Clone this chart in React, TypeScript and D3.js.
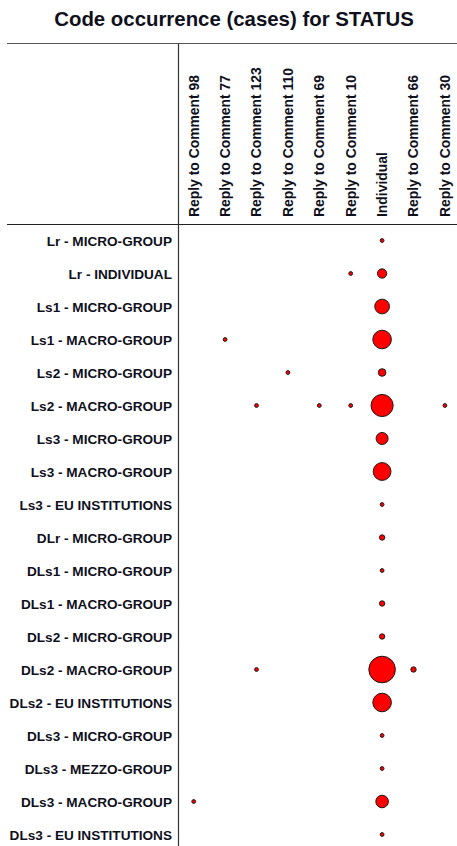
import React from "react";
import * as d3 from "d3";

const title = "Code occurrence (cases) for STATUS";

const columns = [
  "Reply to Comment 98",
  "Reply to Comment 77",
  "Reply to Comment 123",
  "Reply to Comment 110",
  "Reply to Comment 69",
  "Reply to Comment 10",
  "Individual",
  "Reply to Comment 66",
  "Reply to Comment 30",
];

const rows = [
  "Lr - MICRO-GROUP",
  "Lr - INDIVIDUAL",
  "Ls1 - MICRO-GROUP",
  "Ls1 - MACRO-GROUP",
  "Ls2 - MICRO-GROUP",
  "Ls2 - MACRO-GROUP",
  "Ls3 - MICRO-GROUP",
  "Ls3 - MACRO-GROUP",
  "Ls3 - EU INSTITUTIONS",
  "DLr - MICRO-GROUP",
  "DLs1 - MICRO-GROUP",
  "DLs1 - MACRO-GROUP",
  "DLs2 - MICRO-GROUP",
  "DLs2 - MACRO-GROUP",
  "DLs2 - EU INSTITUTIONS",
  "DLs3 - MICRO-GROUP",
  "DLs3 - MEZZO-GROUP",
  "DLs3 - MACRO-GROUP",
  "DLs3 - EU INSTITUTIONS",
];

// [row, column, cases]
const cells: [string, string, number][] = [
  ["Lr - MICRO-GROUP", "Individual", 1],
  ["Lr - INDIVIDUAL", "Reply to Comment 10", 1],
  ["Lr - INDIVIDUAL", "Individual", 6],
  ["Ls1 - MICRO-GROUP", "Individual", 15],
  ["Ls1 - MACRO-GROUP", "Reply to Comment 77", 1],
  ["Ls1 - MACRO-GROUP", "Individual", 24],
  ["Ls2 - MICRO-GROUP", "Reply to Comment 110", 1],
  ["Ls2 - MICRO-GROUP", "Individual", 4],
  ["Ls2 - MACRO-GROUP", "Reply to Comment 123", 1],
  ["Ls2 - MACRO-GROUP", "Reply to Comment 69", 1],
  ["Ls2 - MACRO-GROUP", "Reply to Comment 10", 1],
  ["Ls2 - MACRO-GROUP", "Individual", 34],
  ["Ls2 - MACRO-GROUP", "Reply to Comment 30", 1],
  ["Ls3 - MICRO-GROUP", "Individual", 10],
  ["Ls3 - MACRO-GROUP", "Individual", 22],
  ["Ls3 - EU INSTITUTIONS", "Individual", 1],
  ["DLr - MICRO-GROUP", "Individual", 2],
  ["DLs1 - MICRO-GROUP", "Individual", 1],
  ["DLs1 - MACRO-GROUP", "Individual", 2],
  ["DLs2 - MICRO-GROUP", "Individual", 2],
  ["DLs2 - MACRO-GROUP", "Reply to Comment 123", 1],
  ["DLs2 - MACRO-GROUP", "Individual", 49],
  ["DLs2 - MACRO-GROUP", "Reply to Comment 66", 2],
  ["DLs2 - EU INSTITUTIONS", "Individual", 24],
  ["DLs3 - MICRO-GROUP", "Individual", 1],
  ["DLs3 - MEZZO-GROUP", "Individual", 1],
  ["DLs3 - MACRO-GROUP", "Reply to Comment 98", 1],
  ["DLs3 - MACRO-GROUP", "Individual", 11],
  ["DLs3 - EU INSTITUTIONS", "Individual", 1],
];

const W = 457;
const H = 846;
const left = 178;
const gridTop = 224;
const font = "'Liberation Sans', Arial, sans-serif";
const ink = "#10101c";

export default function App() {
  const x = d3.scaleBand<string>().domain(columns).range([left, left + 31.4 * columns.length]);
  const y = d3.scaleBand<string>().domain(rows).range([gridTop, gridTop + 33 * rows.length]);
  const maxV = d3.max(cells, (d) => d[2]) as number;
  const r = d3.scaleSqrt().domain([0, maxV]).range([0, 13.3]);

  return (
    <svg
      width={W}
      height={H}
      style={{ position: "absolute", left: 0, top: 0, background: "#fff" }}
      fontFamily={font}
    >
      <text x={234} y={25.5} textAnchor="middle" fontWeight="bold" fontSize={20.4} fill={ink}>
        {title}
      </text>
      <line x1={7} x2={W} y1={43.5} y2={43.5} stroke="#555" strokeWidth={1.2} />
      <line x1={7} x2={W} y1={gridTop + 0.5} y2={gridTop + 0.5} stroke="#222" strokeWidth={1.2} />
      <line x1={left + 0.5} x2={left + 0.5} y1={43.5} y2={H} stroke="#333" strokeWidth={1.2} />

      {columns.map((c) => (
        <text
          key={c}
          transform={`translate(${(x(c) as number) + x.bandwidth() / 2 + 4.8},${217}) rotate(-90)`}
          textAnchor="start"
          fontWeight="bold"
          fontSize={13.9}
          fill={ink}
        >
          {c}
        </text>
      ))}

      {rows.map((rw) => (
        <text
          key={rw}
          x={172}
          y={(y(rw) as number) + y.bandwidth() / 2 + 5}
          textAnchor="end"
          fontWeight="bold"
          fontSize={13.6}
          fill={ink}
        >
          {rw}
        </text>
      ))}

      {cells.map(([rw, c, v]) => (
        <circle
          key={rw + c}
          cx={(x(c) as number) + x.bandwidth() / 2}
          cy={(y(rw) as number) + y.bandwidth() / 2}
          r={Math.max(1.8, r(v))}
          fill="#ff0000"
          stroke="#1a1a1a"
          strokeWidth={1}
        />
      ))}
    </svg>
  );
}
